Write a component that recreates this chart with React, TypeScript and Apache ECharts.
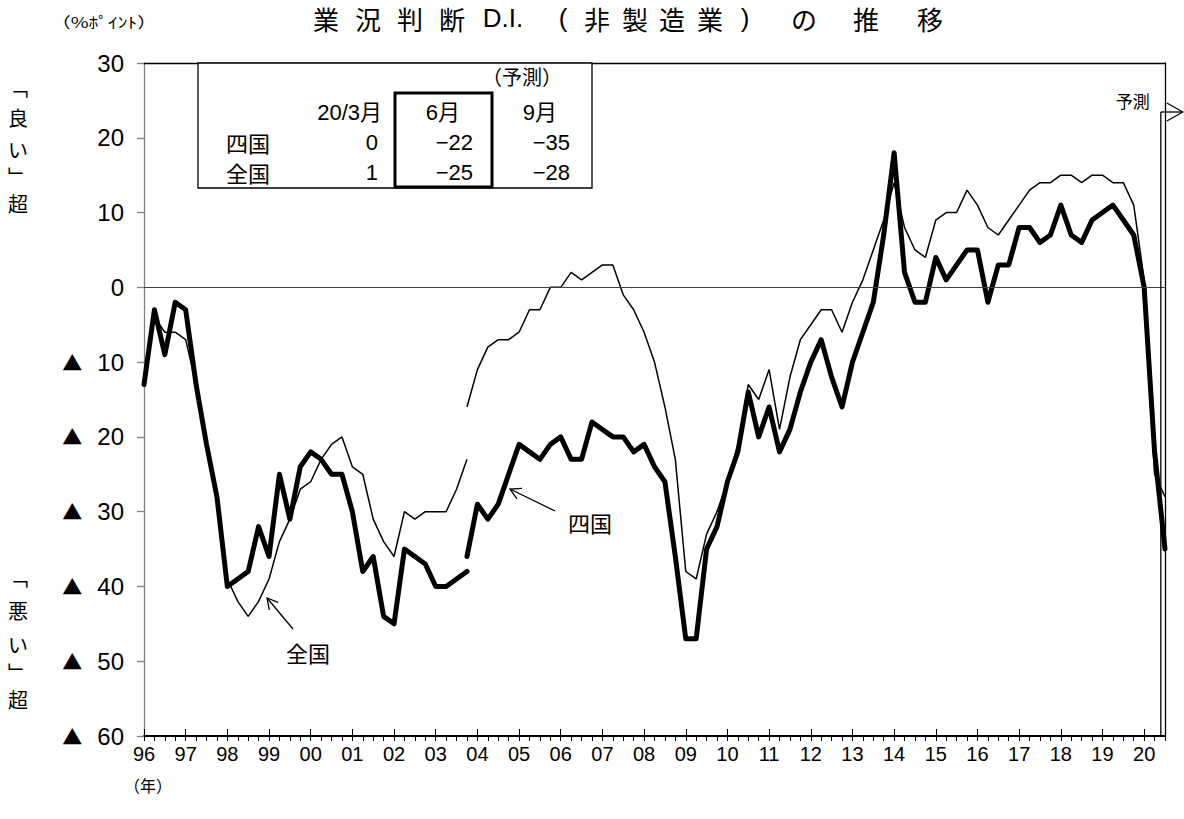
import React, { useEffect, useRef } from "react";
import * as echarts from "echarts";

// ---------- data ----------
const yearLabels = ["96","97","98","99","00","01","02","03","04","05","06","07","08","09","10","11","12","13","14","15","16","17","18","19","20"];
const surveyMonths = ["3", "6", "9", "12"];
const pointCount = 99; // 96/3 … 20/9

// 四国 (old basis: 96/3 – 03/12)
const shikokuOld = [-13,-3,-9,-2,-3,-13,-21,-28,-40,-39,-38,-32,-36,-25,-31,-24,-22,-23,-25,-25,-30,-38,-36,-44,-45,-35,-36,-37,-40,-40,-39,-38];
// 四国 (new basis: 03/12 – 20/9)
const shikokuNew = [-36,-29,-31,-29,-25,-21,-22,-23,-21,-20,-23,-23,-18,-19,-20,-20,-22,-21,-24,-26,-36,-47,-47,-35,-32,-26,-22,-14,-20,-16,-22,-19,-14,-10,-7,-12,-16,-10,-6,-2,7,18,2,-2,-2,4,1,3,5,5,-2,3,3,8,8,6,7,11,7,6,9,10,11,9,7,0,-22,-35];
// 全国 (old basis)
const zenkokuOld = [-12,-4,-6,-6,-7,-13,-21,-28,-39,-42,-44,-42,-39,-34,-31,-27,-26,-23,-21,-20,-24,-25,-31,-34,-36,-30,-31,-30,-30,-30,-27,-23];
// 全国 (new basis)
const zenkokuNew = [-16,-11,-8,-7,-7,-6,-3,-3,0,0,2,1,2,3,3,-1,-3,-6,-10,-16,-23,-38,-39,-33,-30,-26,-21,-13,-15,-11,-19,-12,-7,-5,-3,-3,-6,-2,1,5,9,14,8,5,4,9,10,10,13,11,8,7,9,11,13,14,14,15,15,14,15,15,14,14,11,1,-25,-28];

const tableHeader = ["20/3月", "6月", "9月"];
const tableRows = ["四国", "全国"];
const forecastNote = "（予測）";

const yTicks = { min: -60, max: 30, step: 10 };

// ---------- helpers ----------
const CJK = "'Noto Sans CJK JP', 'Noto Sans', sans-serif";
const NUM = "'Liberation Sans Narrow', 'Liberation Sans', 'Noto Sans CJK JP', sans-serif";

const categories: string[] = [];
for (const y of yearLabels) for (const m of surveyMonths) if (categories.length < pointCount) categories.push(`${y}/${m}`);

const pad = (arr: number[], start: number) => {
  const out: (number | null)[] = new Array(pointCount).fill(null);
  arr.forEach((v, k) => (out[start + k] = v));
  return out;
};
const oldStart = 0;
const newStart = shikokuOld.length - 1;

const fmt = (v: number) => (v < 0 ? "−" + -v : String(v));

function txt(text: string, x: number, y: number, size: number, align = "center", family = CJK, extra: any = {}, elExtra: any = {}) {
  return {
    type: "text",
    x,
    y,
    z: 10,
    ...elExtra,
    style: {
      text,
      fill: "#000",
      fontSize: size,
      fontFamily: family,
      align,
      verticalAlign: "middle",
      textAlign: align,
      textVerticalAlign: "middle",
      ...extra,
    },
  };
}

function arrow(tip: number[], tail: number[]) {
  const dx = tail[0] - tip[0];
  const dy = tail[1] - tip[1];
  const len = Math.hypot(dx, dy);
  const ux = dx / len, uy = dy / len;
  const a = 0.5, h = 12;
  const rot = (ang: number) => [tip[0] + h * (ux * Math.cos(ang) - uy * Math.sin(ang)), tip[1] + h * (ux * Math.sin(ang) + uy * Math.cos(ang))];
  return [
    { type: "line", z: 10, shape: { x1: tip[0], y1: tip[1], x2: tail[0], y2: tail[1] }, style: { stroke: "#000", lineWidth: 1.3 } },
    { type: "polyline", z: 10, shape: { points: [rot(a), tip, rot(-a)] }, style: { stroke: "#000", fill: null, lineWidth: 1.3 } },
  ];
}

export default function App() {
  const ref = useRef<HTMLDivElement>(null);

  useEffect(() => {
    const chart = echarts.init(ref.current!, undefined, { renderer: "svg" });

    const lineBase = { type: "line", symbol: "none", connectNulls: false, silent: true, animation: false, xAxisIndex: 0, yAxisIndex: 0 };

    const option: any = {
      animation: false,
      backgroundColor: "#fff",
      grid: { left: 144, right: 19, top: 63, bottom: 83, containLabel: false },
      xAxis: [
        {
          type: "category",
          data: categories,
          boundaryGap: false,
          position: "bottom",
          axisLine: { show: true, onZero: false, lineStyle: { color: "#000", width: 2 } },
          axisTick: { show: true, inside: true, length: 7, interval: (i: number) => i % 4 === 0, lineStyle: { color: "#000", width: 1 } },
          axisLabel: {
            show: true,
            interval: (i: number) => i % 4 === 0,
            formatter: (v: string) => v.split("/")[0],
            fontSize: 20,
            fontFamily: NUM,
            color: "#000",
            margin: 8,
          },
          splitLine: { show: false },
        },
        {
          type: "category",
          data: categories,
          boundaryGap: false,
          position: "bottom",
          axisLine: { show: false, onZero: false },
          axisTick: { show: true, inside: false, length: 5, interval: 0, lineStyle: { color: "#000", width: 1 } },
          axisLabel: { show: false },
          splitLine: { show: false },
        },
        {
          type: "category",
          data: categories,
          boundaryGap: false,
          position: "top",
          axisLine: { show: true, onZero: false, lineStyle: { color: "#000", width: 1.3 } },
          axisTick: { show: false },
          axisLabel: { show: false },
          splitLine: { show: false },
        },
      ],
      yAxis: [
        {
          type: "value",
          min: yTicks.min,
          max: yTicks.max,
          interval: yTicks.step,
          position: "left",
          axisLine: { show: true, lineStyle: { color: "#808080", width: 1.3 } },
          axisTick: { show: true, length: 7, lineStyle: { color: "#808080", width: 1.3 } },
          axisLabel: {
            margin: 20,
            formatter: (v: number) => (v < 0 ? `{t|▲}{n|${-v}}` : `{n|${v}}`),
            rich: {
              t: { fontSize: 20, fontFamily: CJK, color: "#000", padding: [0, 15, 0, 0] },
              n: { fontSize: 24, fontFamily: NUM, color: "#000" },
            },
          },
          splitLine: { show: false },
        },
        {
          type: "value",
          min: yTicks.min,
          max: yTicks.max,
          interval: yTicks.step,
          position: "right",
          axisLine: { show: true, onZero: false, lineStyle: { color: "#000", width: 1.3 } },
          axisTick: { show: false },
          axisLabel: { show: false },
          splitLine: { show: false },
        },
      ],
      series: [
        {
          type: "line",
          data: [],
          z: 1,
          silent: true,
          markLine: {
            silent: true,
            symbol: ["none", "none"],
            label: { show: false },
            lineStyle: { color: "#404040", width: 1, type: "solid" },
            data: [{ yAxis: 0 }],
            animation: false,
          },
        },
        { ...lineBase, name: "全国", z: 3, data: pad(zenkokuOld, oldStart), lineStyle: { color: "#000", width: 1.5 } },
        { ...lineBase, name: "全国", z: 3, data: pad(zenkokuNew, newStart), lineStyle: { color: "#000", width: 1.5 } },
        { ...lineBase, name: "四国", z: 4, data: pad(shikokuOld, oldStart), lineStyle: { color: "#000", width: 5, join: "round", cap: "round" } },
        { ...lineBase, name: "四国", z: 4, data: pad(shikokuNew, newStart), lineStyle: { color: "#000", width: 5, join: "round", cap: "round" } },
      ],
    };

    chart.setOption(option);

    // ---------- annotations ----------
    const els: any[] = [];

    // title (letter-spaced)
    const titleTokens: [string, number][] = [
      ["業", 326], ["況", 368], ["判", 410], ["断", 452], ["D.I.", 503],
      ["(", 563], ["非", 597], ["製", 635], ["造", 672], ["業", 710], [")", 745],
      ["の", 804], ["推", 866], ["移", 930],
    ];
    titleTokens.forEach(([t, x]) => els.push(txt(t, x, 18, 26, "center", t === "D.I." || t === "(" || t === ")" ? NUM : CJK)));

    els.push(txt("（%ﾎﾟｲﾝﾄ）", 104, 22, 15, "center", CJK, {}, { scaleX: 1.3 }));
    els.push(txt("（年）", 148, 785, 16));

    // vertical side labels
    const upper = ["﹁", "良", "い", "﹂", "超"];
    const upperY = [87, 117, 149, 176, 203];
    upper.forEach((c, k) => els.push(txt(c, 18, upperY[k], 20)));
    const lower = ["﹁", "悪", "い", "﹂", "超"];
    const lowerY = [577, 610, 644, 672, 699];
    lower.forEach((c, k) => els.push(txt(c, 18, lowerY[k], 20)));

    // table
    els.push({ type: "rect", z: 9, shape: { x: 198, y: 63, width: 394, height: 125 }, style: { fill: "#fff", stroke: "#000", lineWidth: 1.3 } });
    els.push({ type: "rect", z: 9, shape: { x: 395, y: 93, width: 97, height: 94 }, style: { fill: null, stroke: "#000", lineWidth: 3 } });
    els.push(txt(forecastNote, 522, 76, 20));
    const headRight = [382, 460, 557];
    tableHeader.forEach((h, k) => els.push(txt(h, headRight[k], 112, 22, "right", NUM)));
    const rowY = [142, 172];
    const valRight = [378, 473, 570];
    const rowsData = [shikokuNew.slice(-3), zenkokuNew.slice(-3)];
    tableRows.forEach((r, ri) => {
      els.push(txt(r, 226, rowY[ri], 22, "left"));
      rowsData[ri].forEach((v, k) => els.push(txt(fmt(v), valRight[k], rowY[ri], 22, "right", NUM)));
    });

    // series labels with arrows
    els.push(txt("全国", 308, 652, 22));
    els.push(...arrow([267, 598], [293, 629]));
    els.push(txt("四国", 590, 522, 22));
    els.push(...arrow([510, 489], [555, 511]));

    // forecast marker
    const p97 = chart.convertToPixel({ xAxisIndex: 0, yAxisIndex: 0 }, [pointCount - 2, yTicks.min]) as number[];
    const p98 = chart.convertToPixel({ xAxisIndex: 0, yAxisIndex: 0 }, [pointCount - 1, yTicks.min]) as number[];
    const xf = p97[0] + 0.6 * (p98[0] - p97[0]);
    const yTop = 112;
    els.push({ type: "line", z: 10, shape: { x1: xf, y1: yTop, x2: xf, y2: p97[1] }, style: { stroke: "#000", lineWidth: 1.3 } });
    els.push({ type: "line", z: 10, shape: { x1: xf, y1: yTop, x2: xf + 22, y2: yTop }, style: { stroke: "#000", lineWidth: 1.3 } });
    els.push({ type: "polyline", z: 10, shape: { points: [[xf + 6, yTop - 9], [xf + 22, yTop], [xf + 6, yTop + 9]] }, style: { stroke: "#000", fill: null, lineWidth: 1.3 } });
    els.push(txt("予測", xf - 28, 100, 17));

    chart.setOption({ graphic: els });

    return () => chart.dispose();
  }, []);

  return <div ref={ref} style={{ position: "absolute", left: 0, top: 0, width: 1184, height: 819, background: "#fff" }} />;
}
